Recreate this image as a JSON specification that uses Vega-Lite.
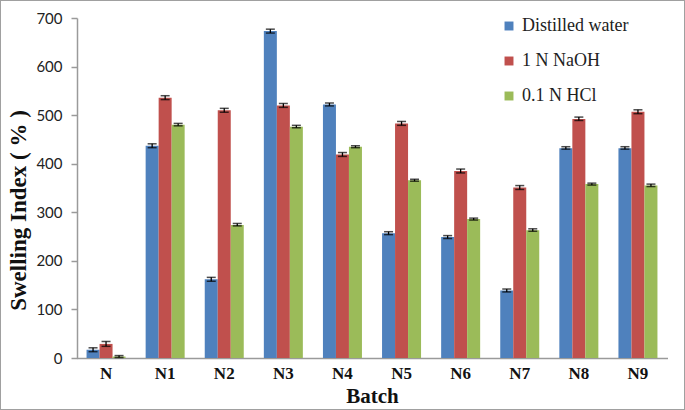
{
  "$schema": "https://vega.github.io/schema/vega-lite/v6.json",
  "width": 685,
  "height": 410,
  "autosize": {"type": "none"},
  "padding": 0,
  "background": "white",
  "config": {
    "view": {"stroke": "#a0a0a0", "strokeWidth": 2},
    "legend": {"labelFont": "Liberation Serif", "labelFontSize": 17, "labelColor": "#222"}
  },
  "data": {"values": [
    {"batch": "N", "medium": "Distilled water", "value": 17, "lo": 13, "hi": 21},
    {"batch": "N", "medium": "1 N NaOH", "value": 29, "lo": 24, "hi": 34},
    {"batch": "N", "medium": "0.1 N HCl", "value": 3, "lo": 1, "hi": 5},
    {"batch": "N1", "medium": "Distilled water", "value": 437, "lo": 433, "hi": 441},
    {"batch": "N1", "medium": "1 N NaOH", "value": 536, "lo": 532, "hi": 540},
    {"batch": "N1", "medium": "0.1 N HCl", "value": 480, "lo": 478, "hi": 483},
    {"batch": "N2", "medium": "Distilled water", "value": 162, "lo": 158, "hi": 166},
    {"batch": "N2", "medium": "1 N NaOH", "value": 510, "lo": 506, "hi": 514},
    {"batch": "N2", "medium": "0.1 N HCl", "value": 274, "lo": 272, "hi": 277},
    {"batch": "N3", "medium": "Distilled water", "value": 673, "lo": 669, "hi": 677},
    {"batch": "N3", "medium": "1 N NaOH", "value": 520, "lo": 516, "hi": 524},
    {"batch": "N3", "medium": "0.1 N HCl", "value": 476, "lo": 474, "hi": 479},
    {"batch": "N4", "medium": "Distilled water", "value": 522, "lo": 519, "hi": 525},
    {"batch": "N4", "medium": "1 N NaOH", "value": 419, "lo": 415, "hi": 423},
    {"batch": "N4", "medium": "0.1 N HCl", "value": 435, "lo": 433, "hi": 437},
    {"batch": "N5", "medium": "Distilled water", "value": 257, "lo": 254, "hi": 260},
    {"batch": "N5", "medium": "1 N NaOH", "value": 483, "lo": 479, "hi": 487},
    {"batch": "N5", "medium": "0.1 N HCl", "value": 366, "lo": 364, "hi": 368},
    {"batch": "N6", "medium": "Distilled water", "value": 249, "lo": 246, "hi": 252},
    {"batch": "N6", "medium": "1 N NaOH", "value": 385, "lo": 381, "hi": 389},
    {"batch": "N6", "medium": "0.1 N HCl", "value": 286, "lo": 284, "hi": 288},
    {"batch": "N7", "medium": "Distilled water", "value": 139, "lo": 136, "hi": 142},
    {"batch": "N7", "medium": "1 N NaOH", "value": 351, "lo": 347, "hi": 355},
    {"batch": "N7", "medium": "0.1 N HCl", "value": 263, "lo": 261, "hi": 266},
    {"batch": "N8", "medium": "Distilled water", "value": 432, "lo": 430, "hi": 435},
    {"batch": "N8", "medium": "1 N NaOH", "value": 492, "lo": 489, "hi": 496},
    {"batch": "N8", "medium": "0.1 N HCl", "value": 358, "lo": 356, "hi": 360},
    {"batch": "N9", "medium": "Distilled water", "value": 432, "lo": 430, "hi": 435},
    {"batch": "N9", "medium": "1 N NaOH", "value": 507, "lo": 503, "hi": 511},
    {"batch": "N9", "medium": "0.1 N HCl", "value": 355, "lo": 353, "hi": 358}
  ]},
  "encoding": {
    "x": {
      "field": "batch", "type": "nominal",
      "sort": ["N", "N1", "N2", "N3", "N4", "N5", "N6", "N7", "N8", "N9"],
      "scale": {"range": [76.5, 667.5], "paddingInner": 0.34, "paddingOuter": 0.17},
      "axis": {
        "offset": -52, "labelAngle": 0, "ticks": false,
        "domainColor": "#9a9a9a", "domainWidth": 1.5,
        "labelFont": "Liberation Serif", "labelFontWeight": "bold", "labelFontSize": 17,
        "labelColor": "#111", "labelPadding": 7,
        "title": "Batch", "titleFont": "Liberation Serif", "titleFontWeight": "bold",
        "titleFontSize": 21, "titleColor": "#111", "titlePadding": 4
      }
    },
    "xOffset": {"field": "medium", "type": "nominal", "sort": ["Distilled water", "1 N NaOH", "0.1 N HCl"]}
  },
  "layer": [
    {
      "mark": {"type": "bar"},
      "encoding": {
        "y": {
          "field": "value", "type": "quantitative", "title": "Swelling Index ( % )",
          "scale": {"domain": [0, 700], "range": [358, 18], "nice": false},
          "axis": {
            "offset": -77, "values": [0, 100, 200, 300, 400, 500, 600, 700],
            "grid": false, "domainColor": "#9a9a9a", "domainWidth": 1.5,
            "tickColor": "#9a9a9a", "tickSize": 6, "tickWidth": 1.5,
            "labelFont": "Lato", "labelFontSize": 15, "labelColor": "#222", "labelPadding": 9,
            "titleFont": "Liberation Serif", "titleFontWeight": "bold", "titleFontSize": 23,
            "titleColor": "#111", "titleX": -59, "titleY": 210, "titleAngle": -90, "titleBaseline": "middle", "titleAlign": "center"
          }
        },
        "color": {
          "field": "medium", "type": "nominal",
          "sort": ["Distilled water", "1 N NaOH", "0.1 N HCl"],
          "scale": {"domain": ["Distilled water", "1 N NaOH", "0.1 N HCl"], "range": ["#4F81BD", "#C0504D", "#9BBB59"]},
          "legend": {
            "orient": "none", "legendX": 500, "legendY": 17, "title": null,
            "symbolType": "square", "symbolSize": 80, "symbolStrokeWidth": 0,
            "labelFont": "Liberation Serif", "labelFontSize": 18, "labelColor": "#222",
            "rowPadding": 17, "labelOffset": 4
          }
        }
      }
    },
    {
      "mark": {"type": "rule", "color": "black", "strokeWidth": 1.3},
      "encoding": {
        "y": {"field": "lo", "type": "quantitative", "title": "Swelling Index ( % )"},
        "y2": {"field": "hi"}
      }
    },
    {
      "mark": {"type": "tick", "orient": "horizontal", "color": "black", "thickness": 1.5, "size": 9},
      "encoding": {"y": {"field": "lo", "type": "quantitative", "title": "Swelling Index ( % )"}}
    },
    {
      "mark": {"type": "tick", "orient": "horizontal", "color": "black", "thickness": 1.5, "size": 9},
      "encoding": {"y": {"field": "hi", "type": "quantitative", "title": "Swelling Index ( % )"}}
    }
  ]
}
